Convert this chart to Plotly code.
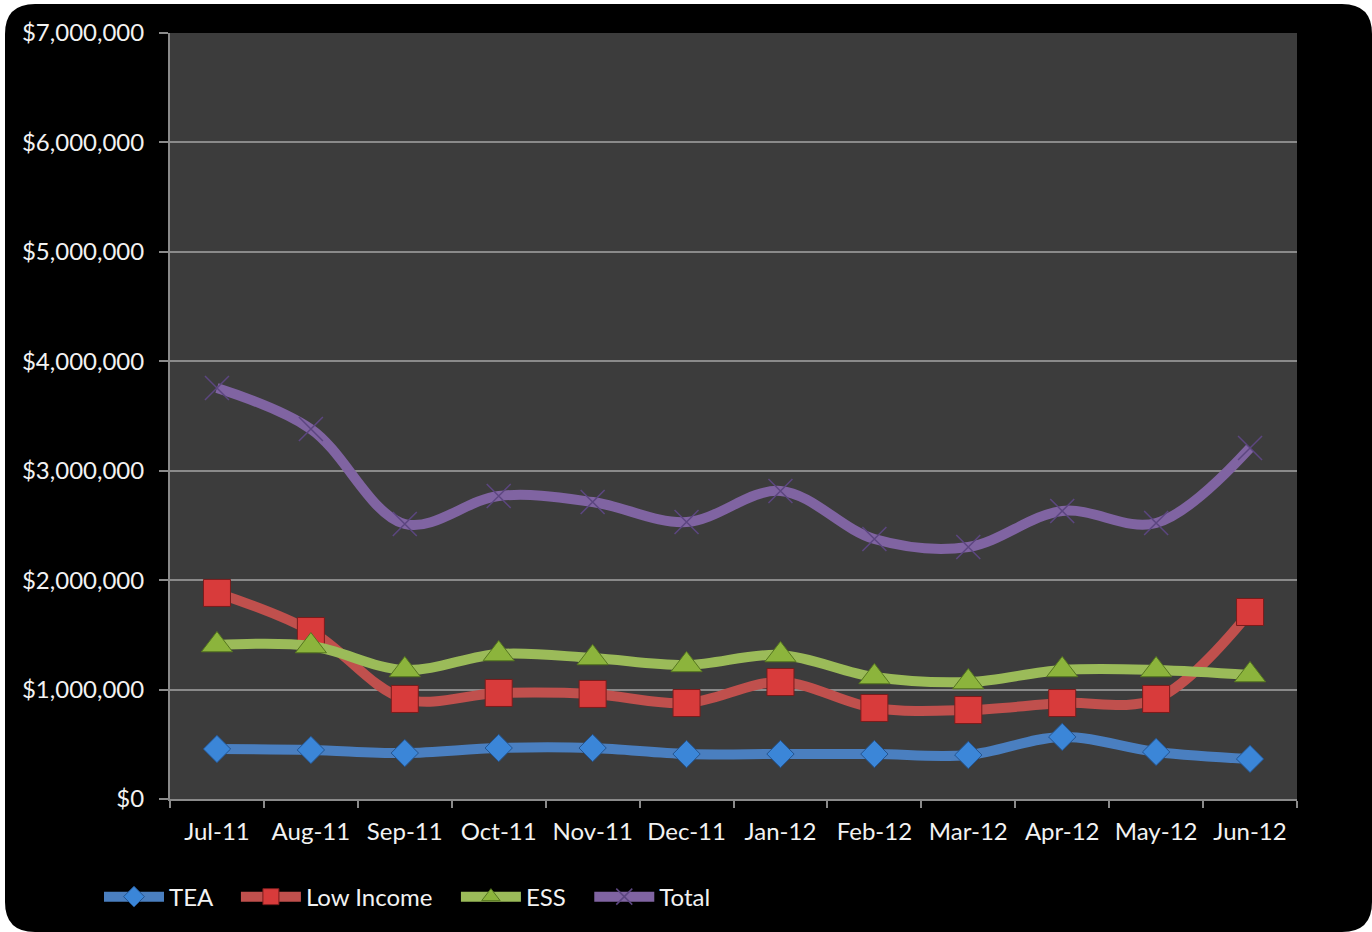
import plotly.graph_objects as go

# monthly amounts
months = ["Jul-11", "Aug-11", "Sep-11", "Oct-11", "Nov-11", "Dec-11",
          "Jan-12", "Feb-12", "Mar-12", "Apr-12", "May-12", "Jun-12"]
tea = [457000, 448000, 420000, 466000, 466000, 411000,
       411000, 411000, 402000, 567000, 430000, 366000]
low_income = [1883000, 1535000, 914000, 969000, 960000, 877000,
              1069000, 832000, 813000, 877000, 914000, 1709000]
ess = [1407000, 1398000, 1179000, 1325000, 1289000, 1225000,
       1316000, 1115000, 1069000, 1179000, 1179000, 1133000]
total = [3756000, 3381000, 2513000, 2769000, 2714000, 2531000,
         2815000, 2376000, 2303000, 2632000, 2522000, 3208000]

FONT = "Lato, 'Open Sans', sans-serif"
GRID = "#8a8a8a"
PAD = "\u00a0" * 3  # widens the gap between legend entries

fig = go.Figure()

series = [
    ("TEA", tea, "#4a7fc0", dict(symbol="diamond", size=21, color="#3b86d8",
                                  line=dict(color="#24548f", width=1))),
    ("Low Income", low_income, "#c0504d", dict(symbol="square", size=27, color="#d83b3b",
                                               line=dict(color="#7a1c1c", width=1))),
    ("ESS", ess, "#9bbb59", dict(symbol="triangle-up", size=27, color="#8cb43c",
                                 line=dict(color="#55761f", width=1))),
    ("Total", total, "#8064a2", dict(symbol="x-thin", size=24, color="#5c4680",
                                     line=dict(color="#5c4680", width=1.5))),
]
for i, (name, vals, col, mk) in enumerate(series):
    label = name if i == len(series) - 1 else name + PAD
    fig.add_trace(go.Scatter(x=months, y=vals, name=label, mode="lines+markers",
                             line=dict(color=col, width=10, shape="spline", smoothing=1.0),
                             marker=mk))

# rounded black frame, drawn in pixels relative to the plot area's bottom-left corner
L, R, T, B, r = 5, 1372, 4, 932, 30
X = lambda px: px - 170
Y = lambda py: 799 - py
frame = (f"M{X(L + r)},{Y(T)} L{X(R - r)},{Y(T)} Q{X(R)},{Y(T)} {X(R)},{Y(T + r)} "
         f"L{X(R)},{Y(B - r)} Q{X(R)},{Y(B)} {X(R - r)},{Y(B)} "
         f"L{X(L + r)},{Y(B)} Q{X(L)},{Y(B)} {X(L)},{Y(B - r)} "
         f"L{X(L)},{Y(T + r)} Q{X(L)},{Y(T)} {X(L + r)},{Y(T)} Z")

fig.update_layout(
    width=1372, height=932,
    margin=dict(l=170, r=75, t=33, b=133),
    paper_bgcolor="white",
    plot_bgcolor="rgba(0,0,0,0)",
    font=dict(family=FONT, size=24, color="#f2f2f2"),
    shapes=[
        dict(type="path", xref="paper", yref="paper", xsizemode="pixel", ysizemode="pixel",
             xanchor=0, yanchor=0, path=frame, fillcolor="black", line=dict(width=0), layer="below"),
        dict(type="rect", xref="paper", yref="paper", x0=0, x1=1, y0=0, y1=1,
             fillcolor="#3c3c3c", line=dict(width=0), layer="below"),
    ],
    legend=dict(orientation="h", x=-0.063, xanchor="left", y=-0.128, yanchor="middle",
                bgcolor="rgba(0,0,0,0)", font=dict(family=FONT, size=24, color="#f2f2f2"),
                itemsizing="trace", itemwidth=60),
    showlegend=True,
)

fig.update_xaxes(type="category", range=[-0.5, 11.5], tickson="boundaries", ticks="outside",
                 ticklen=7, tickangle=0, tickcolor=GRID, tickwidth=2, showline=True,
                 linecolor=GRID, linewidth=2, showgrid=False, ticklabelstandoff=10)
fig.update_yaxes(range=[0, 7000000], dtick=1000000, tickprefix="$", tickformat=",d",
                 ticks="outside", ticklen=9, tickcolor=GRID, tickwidth=2,
                 showline=True, linecolor=GRID, linewidth=2,
                 showgrid=True, gridcolor=GRID, gridwidth=2, zeroline=False,
                 ticklabelstandoff=10)

fig.write_html("out.html", config={"displayModeBar": False},
               post_script="document.body.style.margin='0';")
